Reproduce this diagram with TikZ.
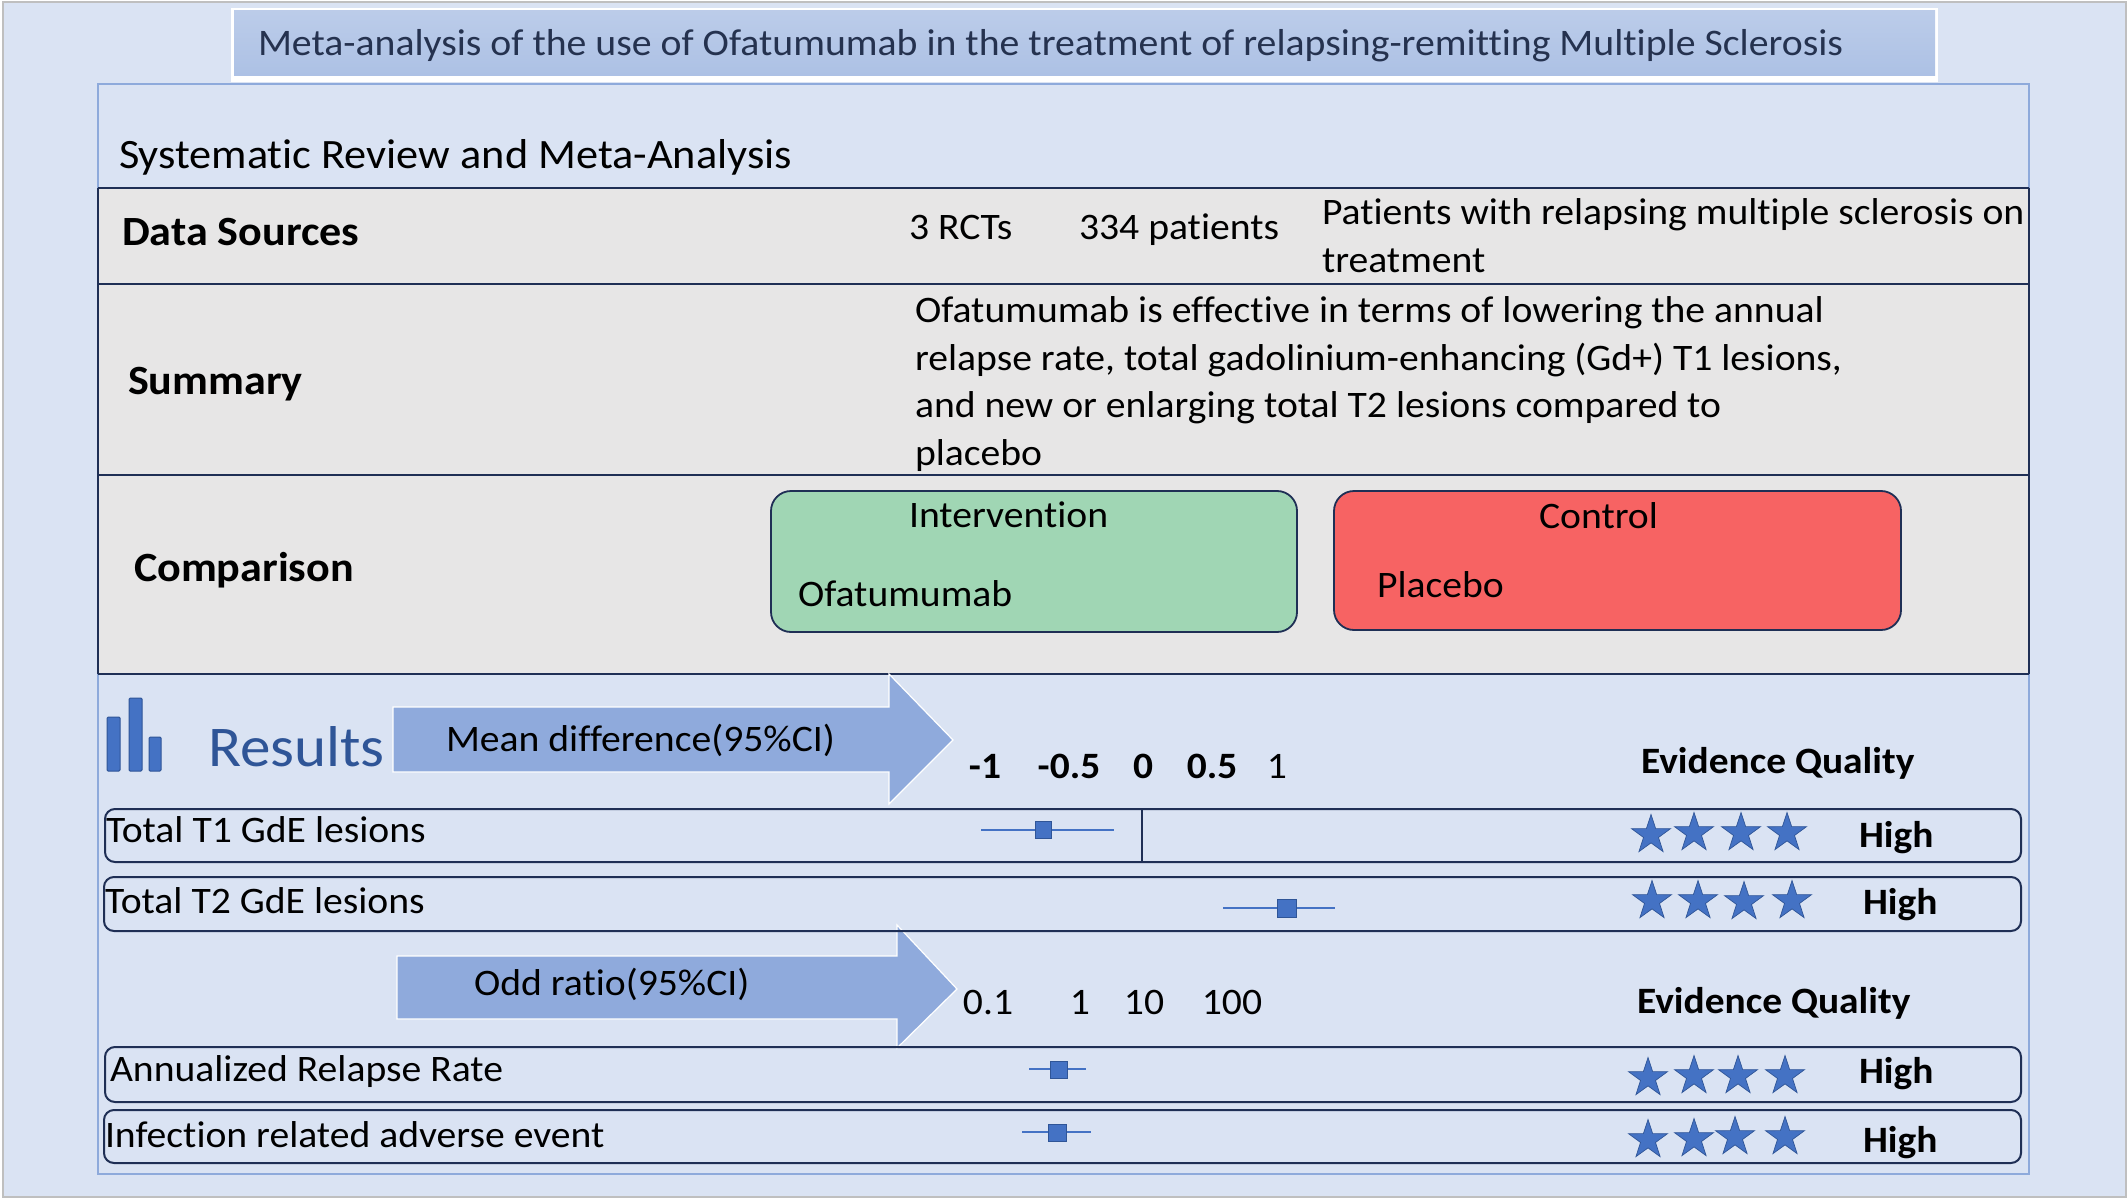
\documentclass[tikz,border=0pt]{standalone}
\usepackage{fontspec}
\setmainfont[FakeStretch=1.06,Ligatures=NoCommon]{Carlito}
\usetikzlibrary{shapes.geometric}
\definecolor{bgblue}{HTML}{DAE3F3}
\definecolor{paneledge}{HTML}{8EAADB}
\definecolor{navy}{HTML}{1F2F55}
\definecolor{rowgrey}{HTML}{E7E6E6}
\definecolor{arrowblue}{HTML}{8FAADC}
\definecolor{starblue}{HTML}{4472C4}
\definecolor{stardark}{HTML}{2F5597}
\definecolor{greenbox}{HTML}{A0D6B4}
\definecolor{redbox}{HTML}{F76363}
\definecolor{titleink}{HTML}{25324F}
\tikzset{
  x=0.5pt,y=-0.5pt,
  txt/.style={anchor=base west,inner sep=0pt,outer sep=0pt,yshift=-0.9pt,font=\fontsize{18.7}{20}\selectfont,text=black},
  bld/.style={txt,font=\fontsize{18.6}{20}\selectfont\bfseries},
  ctr/.style={anchor=base,inner sep=0pt,outer sep=0pt,yshift=-0.9pt,font=\fontsize{18.7}{20}\selectfont,text=black},
  ctrb/.style={ctr,font=\fontsize{18.6}{20}\selectfont\bfseries},
  rowline/.style={draw=navy,line width=1.1pt},
  rowbox/.style={draw=navy,line width=1pt,rounded corners=5pt},
  bigarrow/.style={fill=arrowblue,draw=white,line width=0.6pt},
  ci/.style={draw=starblue,line width=0.7pt},
  cibox/.style={fill=starblue,draw=stardark,line width=0.4pt},
  bar/.style={fill=starblue,draw=stardark,line width=0.5pt,rounded corners=0.6pt},
  qstar/.style={star,star points=5,star point ratio=2.6,fill=starblue,draw=stardark,line width=0.35pt,minimum size=20.5pt,inner sep=0pt,outer sep=0pt}
}
\begin{document}
\begin{tikzpicture}
\useasboundingbox (0,0) rectangle (2128,1203);
\fill[white] (0,0) rectangle (2128,1203);
\fill[bgblue,draw=black!25,line width=1pt] (3,2) rectangle (2126,1197);
% title
\fill[white] (231,8) rectangle (1938,82);
\shade[top color=bgblue!60!paneledge,bottom color=paneledge!60!bgblue] (234,11) rectangle (1935,76);
\node[txt,font=\fontsize{18.75}{20}\selectfont,text=titleink] (title) at (258,54) {Meta-analysis of the use of Ofatumumab in the treatment of relapsing-remitting Multiple Sclerosis};
% panel
\draw[paneledge,line width=0.6pt] (98,84) rectangle (2029,1174);
\node[txt,font=\fontsize{20.9}{22}\selectfont] (sub) at (119,167) {Systematic Review and Meta-Analysis};
% grey rows
\fill[rowgrey] (98,188) rectangle (2029,674);
\draw[rowline] (98,188) -- (2029,188);
\draw[rowline] (98,284) -- (2029,284);
\draw[rowline] (98,475) -- (2029,475);
\draw[rowline] (98,674) -- (2029,674);
\draw[navy,line width=0.6pt] (98,188) -- (98,674) (2029,188) -- (2029,674);
\node[bld,font=\fontsize{20.8}{22}\selectfont\bfseries] (ds) at (122,244) {Data Sources};
\node[txt] (rct) at (909,238) {3 RCTs};
\node[txt] (pts) at (1079,238) {334 patients};
\node[txt] (pat1) at (1322,223) {Patients with relapsing multiple sclerosis on};
\node[txt] (pat2) at (1322,271) {treatment};
\node[bld,font=\fontsize{20.8}{22}\selectfont\bfseries] (sm) at (128,393) {Summary};
\node[txt] (s1) at (915,321) {Ofatumumab is effective in terms of lowering the annual};
\node[txt] (s2) at (915,369) {relapse rate, total gadolinium-enhancing (Gd+) T1 lesions,};
\node[txt] (s3) at (915,416) {and new or enlarging total T2 lesions compared to};
\node[txt] (s4) at (915,464) {placebo};
\node[bld,font=\fontsize{20.8}{22}\selectfont\bfseries] (cp) at (134,580) {Comparison};
% comparison boxes
\path[fill=greenbox,draw=navy,line width=0.9pt,rounded corners=10pt] (771,491) rectangle (1297,632);
\path[fill=redbox,draw=navy,line width=0.9pt,rounded corners=10pt] (1334,491) rectangle (1901,630);
\node[txt] (iv) at (909,526) {Intervention};
\node[txt] (of) at (798,605) {Ofatumumab};
\node[txt] (ct) at (1539,527) {Control};
\node[txt] (pl) at (1377,596) {Placebo};
% results header
\path[bar] (107,717) rectangle (120,771);
\path[bar] (129,698) rectangle (142,771);
\path[bar] (149,737) rectangle (161,771);
\node[txt,font=\fontsize{28.8}{31}\selectfont,text=stardark] (res) at (208,765) {Results};
\path[bigarrow] (393,707) -- (889,707) -- (889,674) -- (953,740) -- (889,804) -- (889,772) -- (393,772) -- cycle;
\node[txt] (md) at (446,750) {Mean difference(95\%CI)};
\path[bigarrow] (397,956) -- (897,956) -- (897,925) -- (957,989) -- (897,1048) -- (897,1019) -- (397,1019) -- cycle;
\node[txt] (or) at (474,994) {Odd ratio(95\%CI)};
% axes
\node[ctrb] (a1) at (985,777) {-1};
\node[ctrb] (a2) at (1069,777) {-0.5};
\node[ctrb] (a3) at (1143,777) {0};
\node[ctrb] (a4) at (1212,777) {0.5};
\node[ctr] (a5) at (1277,777) {1};
\node[ctr] (b1) at (988,1013) {0.1};
\node[ctr] (b2) at (1080,1013) {1};
\node[ctr] (b3) at (1144,1013) {10};
\node[ctr] (b4) at (1232,1013) {100};
\node[bld] (eq1) at (1641,772) {Evidence Quality};
\node[bld] (eq2) at (1637,1012) {Evidence Quality};
% rows
\path[rowbox] (105,809) rectangle (2021,862);
\path[rowbox] (104,877) rectangle (2021,931);
\path[rowbox] (105,1047) rectangle (2021,1102);
\path[rowbox] (104,1110) rectangle (2021,1163);
\draw[navy,line width=0.7pt] (1142,809) -- (1142,862);
\node[txt] (r1) at (106,841) {Total T1 GdE lesions};
\node[txt] (r2) at (105,912) {Total T2 GdE lesions};
\node[txt] (r3) at (110,1080) {Annualized Relapse Rate};
\node[txt] (r4) at (105,1146) {Infection related adverse event};
% CI
\draw[ci] (981,830) -- (1114,830);
\path[cibox] (1035,821) rectangle (1051,838);
\draw[ci] (1223,908) -- (1335,908);
\path[cibox] (1277,899) rectangle (1296,917);
\draw[ci] (1029,1069) -- (1086,1069);
\path[cibox] (1050,1061) rectangle (1067,1078);
\draw[ci] (1022,1132) -- (1091,1132);
\path[cibox] (1048,1124) rectangle (1066,1141);
% stars
\foreach \n/\sx/\sy in {a/1651/835,b/1694/833,c/1741/833,d/1787/833,
  e/1652/901,f/1698/901,g/1744/902,h/1792/901,
  i/1648/1078,j/1694/1076,k/1738/1076,l/1785/1076,
  m/1648/1140,n/1694/1139,o/1735/1137,p/1785/1137}
  \node[qstar] (st\n) at (\sx,\sy) {};
\node[bld] (h1) at (1859,846) {High};
\node[bld] (h2) at (1863,913) {High};
\node[bld] (h3) at (1859,1082) {High};
\node[bld] (h4) at (1863,1151) {High};
\end{tikzpicture}
\end{document}
